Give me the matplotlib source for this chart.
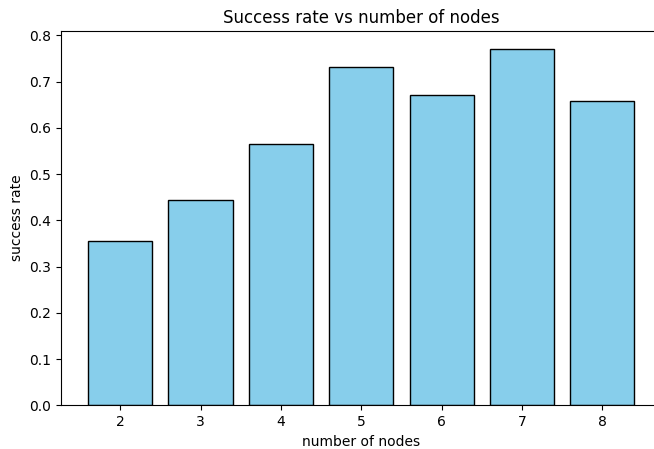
import matplotlib
matplotlib.use("Agg")
import matplotlib.pyplot as plt

nodes = [2, 3, 4, 5, 6, 7, 8]
success_rate = [0.355, 0.445, 0.566, 0.731, 0.672, 0.771, 0.658]

fig = plt.figure(figsize=(6.54, 4.49), dpi=100)
ax = fig.add_axes([60.8/654, 1 - 405.3/449, 601/654, 374.3/449])
ax.bar(nodes, success_rate, color="skyblue", edgecolor="black")
ax.set_title("Success rate vs number of nodes")
ax.set_xlabel("number of nodes")
ax.set_ylabel("success rate")
ax.set_xticks(nodes)
fig.savefig("out.png", dpi=100)
